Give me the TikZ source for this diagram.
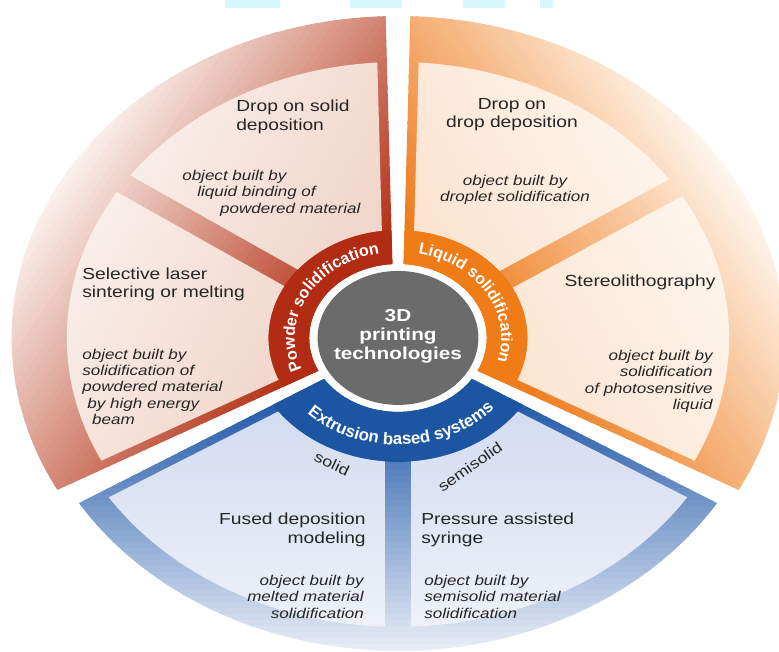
\documentclass[tikz,border=0pt]{standalone}
\usepackage{fontspec}
\setmainfont{Liberation Sans}[FakeStretch=1.2]
\newfontfamily\hubface{Liberation Sans}
\usetikzlibrary{calc, decorations.text}
\usepackage{xcolor}

\definecolor{powdDark}{HTML}{B5351A}
\definecolor{powdLight}{HTML}{FBF2EE}
\definecolor{powdHub}{HTML}{B22C14}
\definecolor{powdPanel}{HTML}{FAEFEA}
\definecolor{powdPanelIn}{HTML}{F1D7CB}
\definecolor{liqDark}{HTML}{EE7B1B}
\definecolor{liqLight}{HTML}{FEF6EE}
\definecolor{liqHub}{HTML}{EF7C16}
\definecolor{liqPanel}{HTML}{FEF5EC}
\definecolor{liqPanelIn}{HTML}{FBE5D2}
\definecolor{extDark}{HTML}{2159A8}
\definecolor{extLight}{HTML}{F1F4FA}
\definecolor{extHub}{HTML}{1C56A3}
\definecolor{extPanel}{HTML}{EEF1F9}
\definecolor{extPanelIn}{HTML}{D3DCF0}
\definecolor{coreGray}{HTML}{6B6B6B}
\definecolor{topCyan}{HTML}{D6F7FB}
\definecolor{inkText}{HTML}{262626}

% ring piece between two angles, edges kept #5 and #6 away from the rays
\newcommand{\wedgepath}[6]{({#1+asin(#5/#3)}:#3) -- ({#1+asin(#5/#4)}:#4)
	arc[start angle={#1+asin(#5/#4)}, end angle={#2-asin(#6/#4)}, radius=#4]
	-- ({#2-asin(#6/#3)}:#3)
	arc[start angle={#2-asin(#6/#3)}, end angle={#1+asin(#5/#3)}, radius=#3] -- cycle}
% soft colour run from dark (near the hub) to light (far side), along direction #1
\newcommand{\glow}[3]{\foreach \p in {30,36,...,342}{%
	\pgfmathsetmacro\t{max(0,min(100,(\p-60)/2.6))}%
	\fill[#2!\t!#3] ({#1}:\p) ++({#1+90}:400) -- ++({#1-90}:800) -- ++({#1}:7) -- ++({#1+90}:800) -- cycle;}}
\newcommand{\hubfont}{\hubface\bfseries\fontsize{11.5}{13}\selectfont}
\newcommand{\hubfontwide}{\hubface\bfseries\fontsize{12}{14}\selectfont}

\begin{document}
\begin{tikzpicture}[x=0.03cm, y=0.025cm]
	\tikzstyle{method} = [font=\fontsize{11.4}{13}\selectfont, text=inkText, inner sep=0pt]
	\tikzstyle{note} = [font=\itshape\fontsize{10.1}{11.7}\selectfont, text=inkText, inner sep=0pt]
	\tikzstyle{branch} = [font=\fontsize{10.6}{12}\selectfont, text=inkText, inner sep=0pt]
	\tikzstyle{hubtext} = [decorate, decoration={text along path, text align=center, text color=white}]
	\useasboundingbox (-331.67,-314) rectangle (317.5,338);

	\fill[topCyan] (-144.2,338) rectangle (-98.3,330);
	\fill[topCyan] (-40,338) rectangle (3.3,330);
	\fill[topCyan] (54.2,338) rectangle (89.2,330);
	\fill[topCyan] (118.3,338) rectangle (129.2,330);

	% powder solidification
	\begin{scope}
		\clip \wedgepath{91.3}{208.7}{74}{322}{3}{3};
		\glow{150}{powdLight}{powdDark}
	\end{scope}
	\fill[powdHub] \wedgepath{91.3}{208.7}{74}{108}{3}{3};
	\shade[top color=powdPanel, bottom color=powdPanelIn, shading angle=60] \wedgepath{91.3}{146}{108}{276}{11}{10};
	\shade[top color=powdPanel, bottom color=powdPanelIn, shading angle=60] \wedgepath{146}{208.7}{108}{276}{10}{11};

	% liquid solidification
	\begin{scope}
		\clip \wedgepath{-28.7}{88.7}{74}{322}{3}{3};
		\glow{30}{liqLight}{liqDark}
	\end{scope}
	\fill[liqHub] \wedgepath{-28.7}{88.7}{74}{108}{3}{3};
	\shade[top color=liqPanel, bottom color=liqPanelIn, shading angle=-60] \wedgepath{33}{88.7}{108}{276}{10}{11};
	\shade[top color=liqPanel, bottom color=liqPanelIn, shading angle=-60] \wedgepath{-28.7}{33}{108}{276}{11}{10};

	% extrusion based systems
	\begin{scope}
		\clip \wedgepath{211.3}{328.7}{74}{313}{3}{3};
		\glow{270}{extLight}{extDark}
	\end{scope}
	\fill[extHub] \wedgepath{211.3}{328.7}{74}{124}{3}{3};
	\shade[top color=extPanel, bottom color=extPanelIn, shading angle=180] \wedgepath{211.3}{270}{124}{289}{11}{11};
	\shade[top color=extPanel, bottom color=extPanelIn, shading angle=180] \wedgepath{270}{328.7}{124}{289}{11}{11};

	% centre
	\fill[coreGray] (0,0) circle[radius=67];
	\node[font=\bfseries\fontsize{12.3}{13.5}\selectfont, text=white, align=center] (core) at (0,2) {3D\\printing\\technologies};

	\path[hubtext, decoration={text={|\hubfont|Powder solidification}}] (222:86) arc[start angle=222, end angle=82, radius=86];
	\path[hubtext, decoration={text={|\hubfont|Liquid solidification}}] (100:86) arc[start angle=100, end angle=-40, radius=86];
	\path[hubtext, decoration={text={|\hubfontwide|Extrusion based systems}}] (202:107) arc[start angle=202, end angle=342, radius=107];

	\node[method, anchor=west, align=left] (dosd) at (-135,221) {Drop on solid\\deposition};
	\node[note, anchor=west, align=left] (dosdnote) at (-180,145) {object built by\\\hspace*{10.7pt}liquid binding of\\\hspace*{27pt}powdered material};
	\node[method, anchor=west, align=left] (sls) at (-263.3,53.5) {Selective laser\\sintering or melting};
	\node[note, anchor=west, align=left] (slsnote) at (-263.3,-49) {object built by\\solidification of\\powdered material\\\hspace*{3.6pt}by high energy\\\hspace*{7pt}beam};

	\node[method, align=center] (dodd) at (95,223) {Drop on\\drop deposition};
	\node[note, align=center] (doddnote) at (97.5,148) {object built by\\droplet solidification};
	\node[method] (sla) at (201.7,56) {Stereolithography};
	\node[note, anchor=east, align=right] (slanote) at (262.5,-43.5) {object built by\\solidification\\of photosensitive\\liquid};

	\node[branch, rotate=-25] (solid) at (-55,-126) {solid};
	\node[branch, rotate=35] (semisolid) at (60,-129) {semisolid};
	\node[method, anchor=east, align=right] (fdm) at (-26.7,-192) {Fused deposition\\modeling};
	\node[note, anchor=east, align=right] (fdmnote) at (-28.3,-259) {object built by\\melted material\\solidification};
	\node[method, anchor=west, align=left] (pas) at (19.2,-192) {Pressure assisted\\syringe};
	\node[note, anchor=west, align=left] (pasnote) at (21.7,-259) {object built by\\semisolid material\\solidification};
\end{tikzpicture}
\end{document}
